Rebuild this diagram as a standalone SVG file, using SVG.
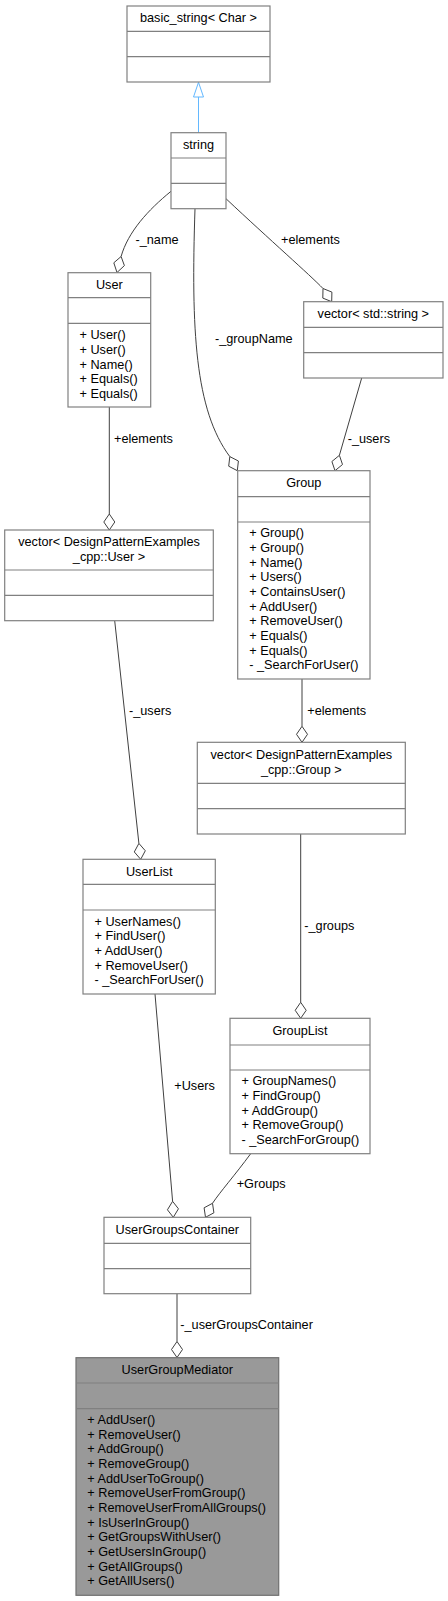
<svg xmlns="http://www.w3.org/2000/svg" width="448" height="1601" viewBox="0 0 448 1601">
<style>
.box{fill:#ffffff;stroke:#808080;stroke-width:1.2}
.root{fill:#999999;stroke:#707070;stroke-width:1.2}
.div{stroke:#808080;stroke-width:1.2;fill:none}
.t{font-family:"Liberation Sans",Arial,sans-serif;font-size:12.7px;fill:#000000}
.c{text-anchor:middle}
.e{fill:none;stroke:#404040;stroke-width:1}
.d{fill:#ffffff;stroke:#404040;stroke-width:1}
.inh{fill:none;stroke:#63B8FF;stroke-width:1}
.inhh{fill:#ffffff;stroke:#63B8FF;stroke-width:1}
</style>
<rect width="448" height="1601" fill="#ffffff"/>
<g id="connectors">
<line class="inh" x1="198.5" y1="132.7" x2="198.5" y2="97"/>
<polygon class="inhh" points="198.5,82.3 193.5,97 203.5,97"/>
<path class="e" d="M171,191.3 C148,210 128,232 121.1,256.5"/>
<polygon class="d" points="117,272.5 124.4,265.6 121.1,256.5 113.8,262.8"/>
<text class="t" x="135.5" y="244">-_name</text>
<path class="e" d="M195,208.7 C191,330 195,410 229.8,456.6"/>
<polygon class="d" points="237.3,470.7 238.4,461 229.8,456.6 228.7,466.2"/>
<text class="t" x="215" y="342.7">-_groupName</text>
<path class="e" d="M226,198.7 C270,240 310,275 323,288.5"/>
<polygon class="d" points="331.7,301.7 331.9,292.1 323,288.5 322.8,298.1"/>
<text class="t" x="281" y="244">+elements</text>
<line class="e" x1="361.7" y1="378" x2="339.4" y2="455.3"/>
<polygon class="d" points="335,470.7 342.5,464.5 339.4,455.3 331.9,461.5"/>
<text class="t" x="347.7" y="442.7">-_users</text>
<line class="e" x1="109.3" y1="407" x2="109.3" y2="514"/>
<polygon class="d" points="109.3,530 114.8,522 109.3,514 103.8,522"/>
<text class="t" x="114" y="442.7">+elements</text>
<line class="e" x1="114.7" y1="620.7" x2="138.9" y2="843.4"/>
<polygon class="d" points="140.7,859.3 145.3,850.75 138.9,843.4 134.3,851.95"/>
<text class="t" x="129" y="715">-_users</text>
<line class="e" x1="302" y1="679" x2="302" y2="726.3"/>
<polygon class="d" points="302,742.3 307.5,734.3 302,726.3 296.5,734.3"/>
<text class="t" x="307.3" y="715">+elements</text>
<line class="e" x1="300.7" y1="834" x2="300.7" y2="1002.3"/>
<polygon class="d" points="300.7,1018.3 306.2,1010.3 300.7,1002.3 295.2,1010.3"/>
<text class="t" x="304.3" y="930">-_groups</text>
<line class="e" x1="155" y1="994" x2="172.6" y2="1201.3"/>
<polygon class="d" points="173.3,1217.3 178.45,1208.8 172.6,1201.3 167.45,1209.8"/>
<text class="t" x="174.3" y="1090">+Users</text>
<path class="e" d="M250.7,1153.7 C235,1175 220,1192 212.5,1203.3"/>
<polygon class="d" points="205.5,1217.3 213.9,1212.8 212.5,1203.3 204.1,1207.8"/>
<text class="t" x="236.7" y="1188.3">+Groups</text>
<line class="e" x1="177" y1="1293.7" x2="177" y2="1341.5"/>
<polygon class="d" points="177,1357.5 182.5,1349.5 177,1341.5 171.5,1349.5"/>
<text class="t" x="180.3" y="1329">-_userGroupsContainer</text>
</g>
<g id="basic_string">
<rect class="box" x="127" y="6" width="143" height="76"/>
<line class="div" x1="127" y1="31.3" x2="270" y2="31.3"/>
<line class="div" x1="127" y1="56.7" x2="270" y2="56.7"/>
<text class="t c" x="198.5" y="22">basic_string&lt; Char &gt;</text>
</g>
<g id="string">
<rect class="box" x="171" y="132.7" width="55" height="76"/>
<line class="div" x1="171" y1="158" x2="226" y2="158"/>
<line class="div" x1="171" y1="183.3" x2="226" y2="183.3"/>
<text class="t c" x="198.5" y="148.7">string</text>
</g>
<g id="User">
<rect class="box" x="68" y="272.7" width="82.7" height="134.3"/>
<line class="div" x1="68" y1="297.7" x2="150.7" y2="297.7"/>
<line class="div" x1="68" y1="323.3" x2="150.7" y2="323.3"/>
<text class="t c" x="109.3" y="289">User</text>
<text class="t" x="79.5" y="339.3">+ User()</text>
<text class="t" x="79.5" y="354">+ User()</text>
<text class="t" x="79.5" y="368.7">+ Name()</text>
<text class="t" x="79.5" y="383.3">+ Equals()</text>
<text class="t" x="79.5" y="398">+ Equals()</text>
</g>
<g id="vector_string">
<rect class="box" x="303.7" y="301.7" width="139.3" height="76.3"/>
<line class="div" x1="303.7" y1="327.3" x2="443" y2="327.3"/>
<line class="div" x1="303.7" y1="352.7" x2="443" y2="352.7"/>
<text class="t c" x="373.3" y="318">vector&lt; std::string &gt;</text>
</g>
<g id="Group">
<rect class="box" x="237.7" y="470.7" width="132.3" height="208.3"/>
<line class="div" x1="237.7" y1="496.7" x2="370" y2="496.7"/>
<line class="div" x1="237.7" y1="522" x2="370" y2="522"/>
<text class="t c" x="303.8" y="487">Group</text>
<text class="t" x="249.3" y="537.3">+ Group()</text>
<text class="t" x="249.3" y="552">+ Group()</text>
<text class="t" x="249.3" y="566.7">+ Name()</text>
<text class="t" x="249.3" y="581.3">+ Users()</text>
<text class="t" x="249.3" y="596">+ ContainsUser()</text>
<text class="t" x="249.3" y="610.7">+ AddUser()</text>
<text class="t" x="249.3" y="625.3">+ RemoveUser()</text>
<text class="t" x="249.3" y="640">+ Equals()</text>
<text class="t" x="249.3" y="654.7">+ Equals()</text>
<text class="t" x="249.3" y="669.3">- _SearchForUser()</text>
</g>
<g id="vector_User">
<rect class="box" x="4.7" y="530" width="208.6" height="90.7"/>
<line class="div" x1="4.7" y1="570" x2="213.3" y2="570"/>
<line class="div" x1="4.7" y1="595.3" x2="213.3" y2="595.3"/>
<text class="t c" x="109" y="546.3">vector&lt; DesignPatternExamples</text>
<text class="t c" x="109" y="560.8">_cpp::User &gt;</text>
</g>
<g id="vector_Group">
<rect class="box" x="197.3" y="742.3" width="208" height="91.7"/>
<line class="div" x1="197.3" y1="783.3" x2="405.3" y2="783.3"/>
<line class="div" x1="197.3" y1="808.7" x2="405.3" y2="808.7"/>
<text class="t c" x="301.3" y="759">vector&lt; DesignPatternExamples</text>
<text class="t c" x="301.3" y="773.5">_cpp::Group &gt;</text>
</g>
<g id="UserList">
<rect class="box" x="83" y="859.3" width="132.3" height="134.7"/>
<line class="div" x1="83" y1="884.3" x2="215.3" y2="884.3"/>
<line class="div" x1="83" y1="910" x2="215.3" y2="910"/>
<text class="t c" x="149.2" y="875.5">UserList</text>
<text class="t" x="94.5" y="925.7">+ UserNames()</text>
<text class="t" x="94.5" y="940.3">+ FindUser()</text>
<text class="t" x="94.5" y="955">+ AddUser()</text>
<text class="t" x="94.5" y="969.7">+ RemoveUser()</text>
<text class="t" x="94.5" y="984.3">- _SearchForUser()</text>
</g>
<g id="GroupList">
<rect class="box" x="230" y="1018.3" width="140" height="135.4"/>
<line class="div" x1="230" y1="1045" x2="370" y2="1045"/>
<line class="div" x1="230" y1="1070" x2="370" y2="1070"/>
<text class="t c" x="300" y="1034.5">GroupList</text>
<text class="t" x="241.5" y="1085.3">+ GroupNames()</text>
<text class="t" x="241.5" y="1100">+ FindGroup()</text>
<text class="t" x="241.5" y="1114.7">+ AddGroup()</text>
<text class="t" x="241.5" y="1129.3">+ RemoveGroup()</text>
<text class="t" x="241.5" y="1144">- _SearchForGroup()</text>
</g>
<g id="UserGroupsContainer">
<rect class="box" x="104" y="1217.3" width="146.7" height="76.4"/>
<line class="div" x1="104" y1="1243.3" x2="250.7" y2="1243.3"/>
<line class="div" x1="104" y1="1268.7" x2="250.7" y2="1268.7"/>
<text class="t c" x="177.3" y="1233.5">UserGroupsContainer</text>
</g>
<g id="UserGroupMediator">
<rect class="root" x="76" y="1357.7" width="202.7" height="237.6"/>
<line class="div" x1="76" y1="1383" x2="278.7" y2="1383"/>
<line class="div" x1="76" y1="1408.7" x2="278.7" y2="1408.7"/>
<text class="t c" x="177.3" y="1374">UserGroupMediator</text>
<text class="t" x="87.3" y="1424">+ AddUser()</text>
<text class="t" x="87.3" y="1438.7">+ RemoveUser()</text>
<text class="t" x="87.3" y="1453.3">+ AddGroup()</text>
<text class="t" x="87.3" y="1468">+ RemoveGroup()</text>
<text class="t" x="87.3" y="1482.7">+ AddUserToGroup()</text>
<text class="t" x="87.3" y="1497.3">+ RemoveUserFromGroup()</text>
<text class="t" x="87.3" y="1512">+ RemoveUserFromAllGroups()</text>
<text class="t" x="87.3" y="1526.7">+ IsUserInGroup()</text>
<text class="t" x="87.3" y="1541.3">+ GetGroupsWithUser()</text>
<text class="t" x="87.3" y="1556">+ GetUsersInGroup()</text>
<text class="t" x="87.3" y="1570.7">+ GetAllGroups()</text>
<text class="t" x="87.3" y="1585.3">+ GetAllUsers()</text>
</g>
</svg>
